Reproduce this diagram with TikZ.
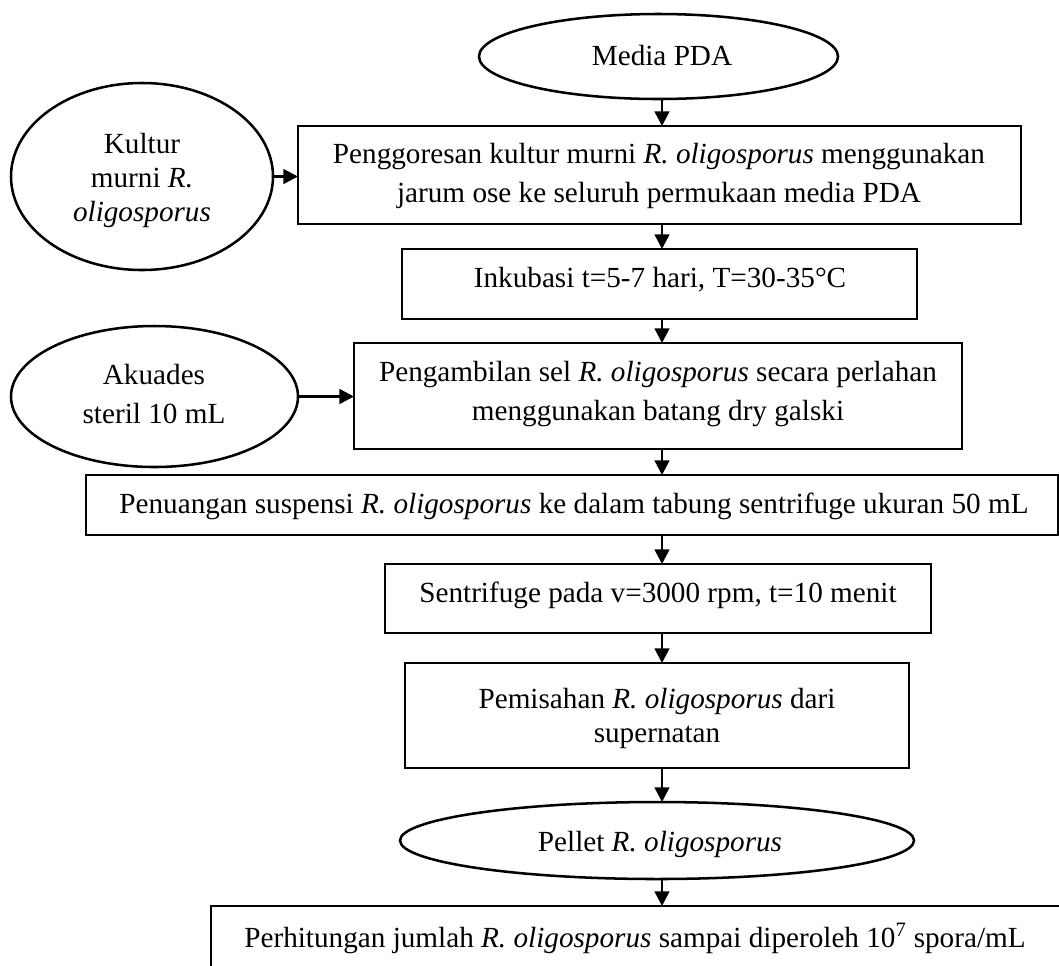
\documentclass[tikz,border=0pt]{standalone}
\usepackage{fontspec}
\setmainfont{Liberation Serif}
\usetikzlibrary{arrows.meta,shapes.geometric}
\begin{document}
\begin{tikzpicture}[x=0.75pt,y=-0.75pt,
  line width=1.9pt,
  stepbox/.style={draw,rectangle,inner sep=0pt,outer sep=0pt},
  oval/.style={draw,ellipse,inner sep=0pt,outer sep=0pt},
  txt/.style={anchor=base,align=center,inner sep=0pt,font=\fontsize{21.9}{29.25}\selectfont},
  tight/.style={font=\fontsize{21.9}{25.5}\selectfont},
  arr/.style={-{Triangle[length=11pt,width=11pt]}}]
\useasboundingbox (0,0) rectangle (1059,965);
\fill[white] (0,0) rectangle (1059,965);

% outline shapes
\node[oval,minimum width=269.25pt,minimum height=63.75pt] (e0) at (658.5,56.5) {};
\node[oval,minimum width=196.5pt,minimum height=140.25pt] (ek) at (142,176.5) {};
\node[oval,minimum width=215.25pt,minimum height=105.75pt] (ea) at (154.5,396.5) {};
\node[oval,minimum width=385.5pt,minimum height=57.75pt] (ep) at (657,840.5) {};

\node[stepbox,minimum width=542.25pt,minimum height=73.5pt] (b1) at (659.5,175) {};
\node[stepbox,minimum width=386.25pt,minimum height=52.5pt] (b2) at (659.5,284) {};
\node[stepbox,minimum width=456pt,minimum height=79.5pt] (b3) at (658,396) {};
\node[stepbox,minimum width=729pt,minimum height=45pt] (b4) at (572,505) {};
\node[stepbox,minimum width=409.5pt,minimum height=51.75pt] (b5) at (658,598.5) {};
\node[stepbox,minimum width=378pt,minimum height=78.75pt] (b6) at (657,715.5) {};
\node[stepbox,minimum width=639pt,minimum height=66.75pt] (b7) at (637,950.5) {};

% texts (anchored at the baseline of their last line)
\node[txt] (t0) at (662,65) {Media PDA};
\node[txt,tight] (tk) at (142,221) {Kultur\\murni \textit{R.}\\\textit{oligosporus}};
\node[txt] (ta) at (154,423) {Akuades\\steril 10 mL};
\node[txt] (t1) at (659,202) {Penggoresan kultur murni \textit{R. oligosporus} menggunakan\\jarum ose ke seluruh permukaan media PDA};
\node[txt] (t2) at (660,287) {Inkubasi t=5-7 hari, T=30-35°C};
\node[txt] (t3) at (658,420) {Pengambilan sel \textit{R. oligosporus} secara perlahan\\menggunakan batang dry galski};
\node[txt] (t4) at (574,513) {Penuangan suspensi \textit{R. oligosporus} ke dalam tabung sentrifuge ukuran 50 mL};
\node[txt] (t5) at (658,602) {Sentrifuge pada v=3000 rpm, t=10 menit};
\node[txt,tight] (t6) at (657,742) {Pemisahan \textit{R. oligosporus} dari\\supernatan};
\node[txt] (tp) at (660,851) {Pellet \textit{R. oligosporus}};
\node[txt] (t7) at (635,947) {Perhitungan jumlah \textit{R. oligosporus} sampai diperoleh 10\textsuperscript{7} spora/mL};

% connectors
\coordinate (sp) at (662,0);
\draw[arr] (e0.south -| sp) -- (b1.north -| sp);
\draw[arr] (b1.south -| sp) -- (b2.north -| sp);
\draw[arr] (b2.south -| sp) -- (b3.north -| sp);
\draw[arr] (b3.south -| sp) -- (b4.north -| sp);
\draw[arr] (b4.south -| sp) -- (b5.north -| sp);
\draw[arr] (b5.south -| sp) -- (b6.north -| sp);
\draw[arr] (b6.south -| sp) -- (ep.north -| sp);
\draw[arr] (ep.south -| sp) -- (b7.north -| sp);
\draw[arr] (ek.east) -- (ek.east -| b1.west);
\draw[arr] (ea.east) -- (ea.east -| b3.west);
\end{tikzpicture}
\end{document}
